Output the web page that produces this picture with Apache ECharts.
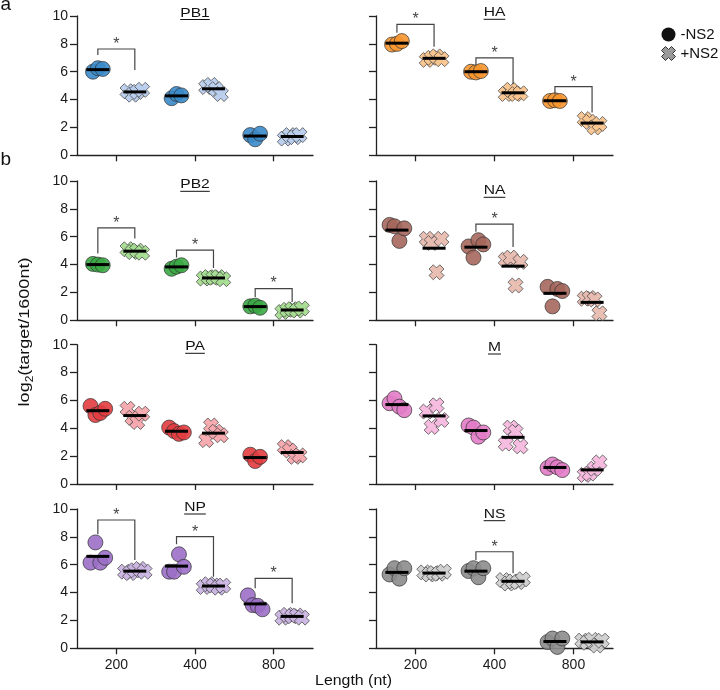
<!DOCTYPE html>
<html><head><meta charset="utf-8">
<script src="https://cdn.jsdelivr.net/npm/echarts@6/dist/echarts.min.js"></script>
<style>html,body{margin:0;padding:0;background:#fff}#chart{width:720px;height:690px}</style>
</head><body><div id="chart"></div>
<script>
// ---------------- data ----------------
const lengths = ['200', '400', '800'];
const segments = ['PB1', 'HA', 'PB2', 'NA', 'PA', 'M', 'NP', 'NS'];

// replicate values per length (200, 400, 800): -NS2 and +NS2
const pb1Minus = [[6.0, 6.25, 6.2], [4.1, 4.4, 4.3], [1.45, 1.15, 1.55]];
const pb1Plus  = [[4.6, 4.35, 4.55, 4.7], [4.9, 5.05, 4.75, 4.4], [1.2, 1.45, 1.3, 1.45]];
const haMinus  = [[7.95, 8.0, 8.2], [6.0, 5.95, 6.05], [3.9, 3.95, 3.9]];
const haPlus   = [[6.85, 7.0, 7.1, 6.9], [4.4, 4.7, 4.4, 4.45], [2.6, 2.4, 2.0, 2.25]];
const pb2Minus = [[4.05, 4.0, 3.95], [3.7, 3.85, 3.95], [1.0, 1.05, 0.9]];
const pb2Plus  = [[5.1, 4.9, 5.0, 4.85], [3.0, 3.1, 3.05, 3.1, 2.95], [0.6, 0.75, 0.8, 0.7, 0.85]];
const naMinus  = [[6.85, 6.75, 5.7, 6.6], [5.3, 4.5, 5.75, 5.45], [2.4, 1.0, 2.25, 2.1]];
const naPlus   = [[5.85, 5.55, 3.45, 5.85], [4.35, 4.5, 2.5, 4.2], [1.55, 1.6, 1.5, 0.5]];
const paMinus  = [[5.6, 4.95, 5.1, 5.4], [4.05, 3.8, 3.6, 3.7], [2.1, 1.65, 1.95]];
const paPlus   = [[5.4, 4.75, 4.45, 5.05], [3.15, 4.2, 3.75, 3.5], [2.65, 2.4, 1.95, 2.05]];
const mMinus   = [[5.8, 6.15, 5.55, 5.3], [4.2, 4.05, 3.4, 3.7], [1.15, 1.4, 1.2, 1.0]];
const mPlus    = [[5.2, 4.1, 5.65, 4.6], [2.9, 4.05, 3.75, 2.7], [0.65, 0.75, 1.1, 1.55]];
const npMinus  = [[6.15, 7.6, 6.15, 6.5], [5.5, 5.5, 6.75, 5.85], [3.8, 3.1, 3.05, 2.8]];
const npPlus   = [[5.5, 5.4, 5.6, 5.7, 5.5], [4.4, 4.6, 4.5, 4.35, 4.5], [2.2, 2.4, 2.3, 2.35, 2.2]];
const nsMinus  = [[5.3, 5.75, 5.0, 5.75], [5.55, 5.75, 5.1, 5.75], [0.45, 0.7, 0.1, 0.7]];
const nsPlus   = [[5.45, 5.3, 5.4, 5.35, 5.5], [4.9, 4.65, 4.8, 4.75, 4.95], [0.55, 0.4, 0.6, 0.2, 0.55]];

// significance brackets: [length index, bracket top, left leg end, right leg end]
const pb1Sig = [[0, 7.63, 7.2, 6.13]];
const haSig  = [[0, 9.4, 8.8, 7.8], [1, 7.0, 6.49, 5.1], [2, 4.93, 4.39, 3.07]];
const pb2Sig = [[0, 6.64, 4.8, 5.88], [1, 5.04, 4.5, 3.76], [2, 2.28, 1.68, 1.32]];
const naSig  = [[1, 6.9, 6.35, 5.27]];
const paSig  = [];
const mSig   = [];
const npSig  = [[0, 9.21, 8.18, 6.34], [1, 8.01, 7.47, 5.14], [2, 5.02, 4.31, 3.23]];
const nsSig  = [[1, 6.93, 6.34, 5.38]];

const yTicks = [0, 2, 4, 6, 8, 10];

// ---------------- styles / layout ----------------
const minusSets = [pb1Minus, haMinus, pb2Minus, naMinus, paMinus, mMinus, npMinus, nsMinus];
const plusSets  = [pb1Plus, haPlus, pb2Plus, naPlus, paPlus, mPlus, npPlus, nsPlus];
const sigSets   = [pb1Sig, haSig, pb2Sig, naSig, paSig, mSig, npSig, nsSig];
const minusColors = ['#3a8ac9', '#f7962f', '#3aa944', '#a5675c', '#e23c3f', '#e27cc7', '#9b6fc6', '#8c8c8c'];
const plusColors  = ['#b9cfee', '#f9c58e', '#a6dd92', '#e8bcb0', '#f7a8ae', '#f6b9de', '#cbb5e3', '#d0d0d0'];

const FONT = '"Liberation Sans", Arial, Helvetica, sans-serif';
const rowTops = [16, 181, 344.7, 509];
const rowH = 139.3;
const colLeft = [77, 376];
const colW = [236, 237];
const titleUnder = [19.5, 19.3, 191.3, 197.3, 353.3, 354, 514, 520.7];
const CROSS = 'path://M20,0L28,8L22,14L28,20L20,28L14,22L8,28L0,20L6,14L0,8L8,0L14,6Z';
const SIDE = 0.235, STEP = 0.062, HALF = 0.146;
const AXIS_COLOR = '#222';

const measureCtx = document.createElement('canvas').getContext('2d');
function textWidth(t, font) { measureCtx.font = font; return measureCtx.measureText(t).width; }
function mean(a) { return a.reduce((s, v) => s + v, 0) / a.length; }

const grids = [], xAxes = [], yAxes = [], series = [], graphics = [];

segments.forEach((seg, i) => {
  const row = Math.floor(i / 2), col = i % 2;
  grids.push({ left: colLeft[col], top: rowTops[row], width: colW[col], height: rowH, containLabel: false, outerBoundsMode: 'none' });
  xAxes.push({
    type: 'value', gridIndex: i, min: 0, max: 3,
    axisLine: { show: true, onZero: false, lineStyle: { color: AXIS_COLOR, width: 1.3 } },
    axisTick: { show: true, length: 6, customValues: [0.5, 1.5, 2.5], lineStyle: { color: AXIS_COLOR, width: 1.3 } },
    axisLabel: { show: row === 3, customValues: [0.5, 1.5, 2.5], formatter: v => lengths[Math.floor(v)],
      fontSize: 14, fontFamily: FONT, color: '#1a1a1a', margin: 10 },
    splitLine: { show: false }
  });
  yAxes.push({
    type: 'value', gridIndex: i, min: 0, max: 10, interval: 2,
    axisLine: { show: true, onZero: false, lineStyle: { color: AXIS_COLOR, width: 1.3 } },
    axisTick: { show: true, length: 7, lineStyle: { color: AXIS_COLOR, width: 1.3 } },
    axisLabel: { show: col === 0, fontSize: 14, fontFamily: FONT, color: '#1a1a1a', margin: 9,
      formatter: v => (yTicks.indexOf(v) >= 0 ? String(v) : '') },
    splitLine: { show: false }
  });

  const build = (sets, side) => {
    const pts = [];
    sets.forEach((vals, c) => {
      const n = vals.length;
      vals.forEach((v, j) => pts.push([c + 0.5 + side * SIDE + (j - (n - 1) / 2) * STEP, v]));
    });
    return pts;
  };

  series.push({
    type: 'scatter', name: '-NS2', xAxisIndex: i, yAxisIndex: i, z: 2,
    symbol: 'circle', symbolSize: 15,
    itemStyle: { color: minusColors[i], borderColor: '#333', borderWidth: 0.8, opacity: 0.9 },
    data: build(minusSets[i], -1)
  });
  series.push({
    type: 'scatter', name: '+NS2', xAxisIndex: i, yAxisIndex: i, z: 2,
    symbol: CROSS, symbolSize: 15,
    itemStyle: { color: plusColors[i], borderColor: '#444', borderWidth: 0.8, opacity: 0.95 },
    data: build(plusSets[i], 1)
  });

  const means = [];
  minusSets[i].forEach((vals, c) => means.push([c, -1, mean(vals)]));
  plusSets[i].forEach((vals, c) => means.push([c, 1, mean(vals)]));
  series.push({
    type: 'custom', xAxisIndex: i, yAxisIndex: i, z: 3, silent: true,
    data: means,
    renderItem: (params, api) => {
      const cx = api.value(0) + 0.5 + api.value(1) * SIDE;
      const m = api.value(2);
      const p1 = api.coord([cx - HALF, m]), p2 = api.coord([cx + HALF, m]);
      return { type: 'line', shape: { x1: p1[0], y1: p1[1], x2: p2[0], y2: p2[1] },
        style: { stroke: '#000', lineWidth: 3 } };
    }
  });

  if (sigSets[i].length) {
    series.push({
      type: 'custom', xAxisIndex: i, yAxisIndex: i, z: 4, silent: true, clip: false,
      data: sigSets[i],
      renderItem: (params, api) => {
        const c = api.value(0), top = api.value(1), l = api.value(2), r = api.value(3);
        const xl = c + 0.5 - SIDE, xr = c + 0.5 + SIDE;
        const a = api.coord([xl, l]), b = api.coord([xl, top]), d = api.coord([xr, top]), e = api.coord([xr, r]);
        return { type: 'group', children: [
          { type: 'polyline', shape: { points: [a, b, d, e] }, style: { stroke: '#444', lineWidth: 1.2, fill: null } },
          { type: 'text', x: (b[0] + d[0]) / 2, y: b[1] - 4.5,
            style: { text: '*', font: '16px ' + FONT, fill: '#444', align: 'center', verticalAlign: 'middle' } }
        ] };
      }
    });
  }

  // underlined panel title
  const cx = colLeft[col] + colW[col] / 2;
  const tFont = '12px ' + FONT;
  const tw = textWidth(seg, tFont) * 1.3;
  graphics.push({ type: 'text', x: cx, y: titleUnder[i] - 6.2, scaleX: 1.3, silent: true,
    style: { text: seg, font: tFont, fill: '#111', align: 'center', verticalAlign: 'middle',
      textAlign: 'center', textVerticalAlign: 'middle' } });
  graphics.push({ type: 'line', silent: true,
    shape: { x1: cx - tw / 2, y1: titleUnder[i], x2: cx + tw / 2, y2: titleUnder[i] },
    style: { stroke: '#111', lineWidth: 1 } });
});

// panel letters and axis names
graphics.push({ type: 'text', x: 0.5, y: 5, silent: true,
  style: { text: 'a', font: '19px ' + FONT, fill: '#111', align: 'left', verticalAlign: 'middle' } });
graphics.push({ type: 'text', x: 0.5, y: 159.5, silent: true,
  style: { text: 'b', font: '19px ' + FONT, fill: '#111', align: 'left', verticalAlign: 'middle' } });
graphics.push({ type: 'text', x: 353.5, y: 680.5, scaleX: 1.06, silent: true,
  style: { text: 'Length (nt)', font: '15px ' + FONT, fill: '#111', align: 'center', verticalAlign: 'middle' } });
graphics.push({ type: 'text', x: 23, y: 332, rotation: Math.PI / 2, scaleX: 1.2, silent: true,
  style: { text: '{n|log}{s|2}{n|(target/1600nt)}', align: 'center', verticalAlign: 'middle',
    rich: {
      n: { fontSize: 15, fontFamily: FONT, fill: '#111', color: '#111', lineHeight: 18, verticalAlign: 'bottom' },
      s: { fontSize: 10, fontFamily: FONT, fill: '#111', color: '#111', lineHeight: 12, verticalAlign: 'bottom', padding: [0, 0, -3, 0] }
    } } });

const option = {
  animation: false,
  backgroundColor: '#fff',
  grid: grids, xAxis: xAxes, yAxis: yAxes, series: series,
  legend: {
    orient: 'vertical', left: 661, top: 27, padding: 0, itemWidth: 14, itemHeight: 14, itemGap: 4,
    selectedMode: false,
    textStyle: { fontSize: 15, fontFamily: FONT, color: '#111' },
    data: [
      { name: '-NS2', icon: 'circle', itemStyle: { color: '#111', borderColor: '#111', borderWidth: 0, opacity: 1 } },
      { name: '+NS2', icon: CROSS, itemStyle: { color: '#9a9a9a', borderColor: '#333', borderWidth: 1, opacity: 1 } }
    ]
  },
  graphic: graphics
};

const chart = echarts.init(document.getElementById('chart'), null, { renderer: 'canvas' });
chart.setOption(option);
</script>
</body></html>
